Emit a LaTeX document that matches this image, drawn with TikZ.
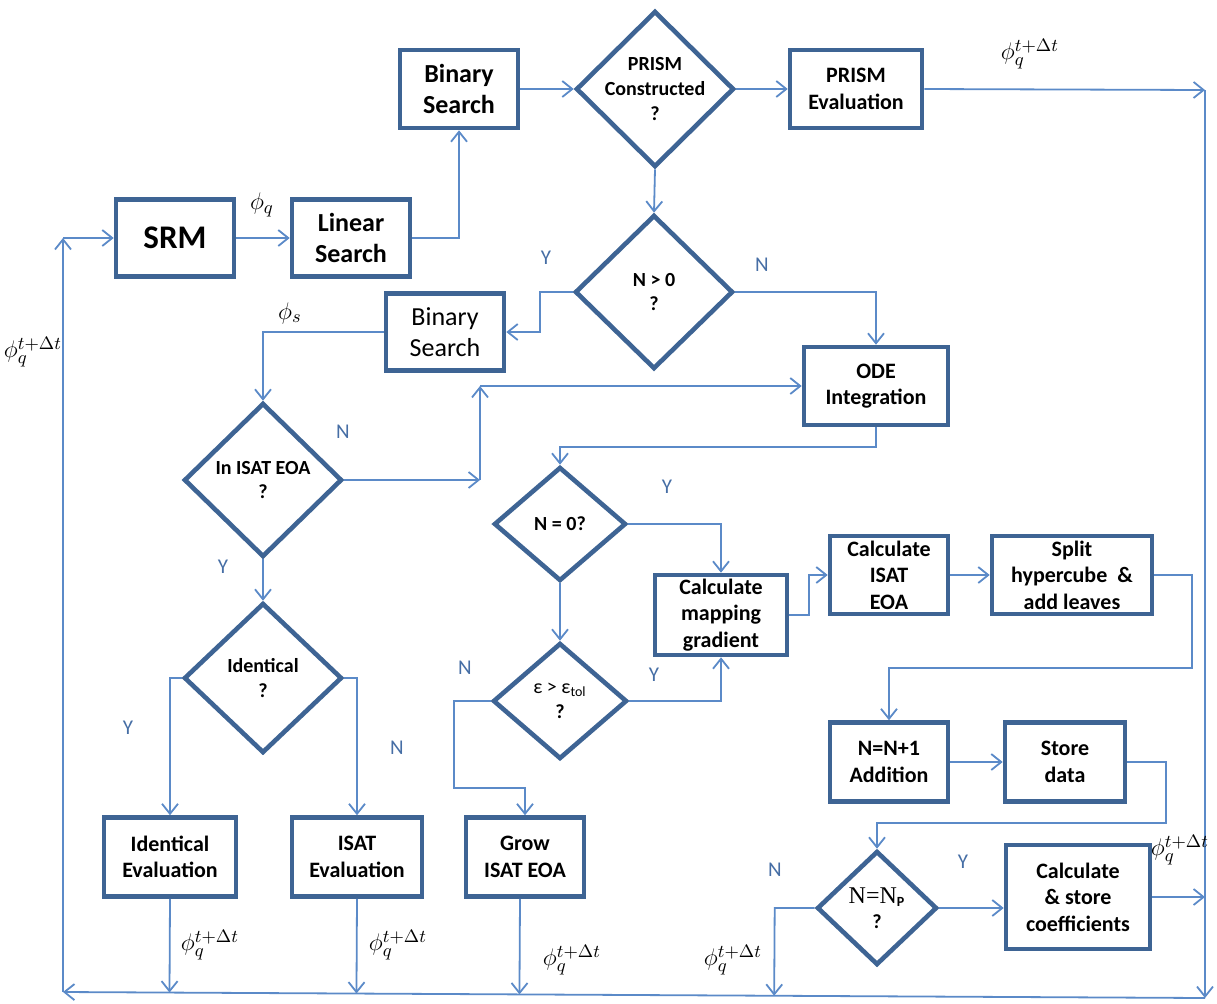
\documentclass[tikz,border=0pt]{standalone}
\usepackage{fontspec}
\setmainfont{Carlito}
\newfontfamily\timesfont{Liberation Serif}
\usepackage{tikz}
\usetikzlibrary{shapes.geometric,arrows.meta,calc}

\definecolor{boxblue}{RGB}{62,100,148}
\definecolor{lineblue}{RGB}{91,138,200}
\definecolor{markblue}{RGB}{70,110,165}

\begin{document}
\begin{tikzpicture}[x=0.5pt, y=-0.5pt,
	block/.style={draw=boxblue, line width=2.3pt, align=center, inner sep=0pt, font=\bfseries\fontsize{11}{13.3}\selectfont},
	bigblock/.style={block, font=\bfseries\fontsize{13}{15.5}\selectfont},
	decision/.style={diamond, draw=boxblue, line width=2.3pt, inner sep=0pt, label={[dtext]center:#1}},
	dtext/.style={align=center, font=\bfseries\fontsize{10}{12.3}\selectfont},
	conn/.style={lineblue, line width=0.9pt, -{Straight Barb[length=5pt, width=8pt]}},
	yn/.style={text=markblue, font=\fontsize{10.5}{12}\selectfont},
	phi/.style={font=\fontsize{13}{15}\selectfont, inner sep=1pt}]

\useasboundingbox (0,0) rectangle (1217,1003);

\node[bigblock, minimum width=59pt, minimum height=39pt] (bsa) at (459,89) {Binary\\Search};
\node[decision={PRISM\\Constructed\\?}, minimum width=79pt, minimum height=78pt] (prism) at (655,89) {};
\node[block, minimum width=66pt, minimum height=39pt] (peval) at (856,89) {PRISM\\Evaluation};

\node[block, font=\bfseries\fontsize{16.5}{19}\selectfont, minimum width=59pt, minimum height=38.5pt] (srm) at (175,238) {SRM};
\node[bigblock, minimum width=59pt, minimum height=38.5pt] (lin) at (351,238) {Linear\\Search};

\node[decision={N > 0\\?}, minimum width=79pt, minimum height=77pt] (npos) at (654,292) {};
\node[bigblock, font=\fontsize{13}{15.5}\selectfont, minimum width=59pt, minimum height=38.5pt] (bsb) at (445,332) {Binary\\Search};
\node[block, minimum width=72pt, minimum height=39pt] (ode) at (876,386) {ODE\\Integration};

\node[decision={In ISAT EOA\\?}, minimum width=79pt, minimum height=77pt] (inisat) at (263,480) {};
\node[decision={Identical\\?}, minimum width=79pt, minimum height=75pt] (ident) at (263,678) {};
\node[decision={N = 0?}, minimum width=66pt, minimum height=57pt] (nzero) at (560,524) {};
\node[decision={{\mdseries ε > ε\textsubscript{tol}}\\?}, minimum width=67pt, minimum height=58pt] (eps) at (560,701) {};

\node[block, minimum width=66pt, minimum height=40pt] (cmap) at (721,615) {Calculate\\mapping\\gradient};
\node[block, minimum width=59pt, minimum height=39pt] (ceoa) at (889,575) {Calculate\\ISAT\\EOA};
\node[block, minimum width=80pt, minimum height=39pt] (split) at (1072,575) {Split\\hypercube \ \&\\add leaves};
\node[block, minimum width=59pt, minimum height=39.5pt] (add) at (889,762) {N=N+1\\Addition};
\node[block, minimum width=60pt, minimum height=39.5pt] (store) at (1065,762) {Store\\data};
\node[decision={{\mdseries\fontsize{12}{14}\selectfont\timesfont N=N}\textsubscript{P}\\?}, minimum width=60pt, minimum height=57pt] (nnp) at (877,908) {};
\node[block, minimum width=72pt, minimum height=52pt] (coef) at (1078,897) {Calculate\\\& store\\coefficients};

\node[block, minimum width=66pt, minimum height=39.5pt] (ideval) at (170,857) {Identical\\Evaluation};
\node[block, minimum width=65pt, minimum height=39.5pt] (iseval) at (357,857) {ISAT\\Evaluation};
\node[block, minimum width=59pt, minimum height=39.5pt] (grow) at (525,857) {Grow\\ISAT EOA};

\coordinate (rtop) at (1205,90);
\coordinate (rbot) at (1205,998);
\coordinate (lbot) at (63,992);
\coordinate (ltop) at (63,238);
\coordinate (odex) at (480,480);
\coordinate (nnpturn) at ($(nnp.west)+(-40,0)$);
\coordinate (growout) at ([xshift=-2.5pt]grow.south);

\draw[conn] (srm.east) -- (lin.west);
\draw[conn] (lin.east) -| (bsa.south);
\draw[conn] (bsa.east) -- (prism.west);
\draw[conn] (prism.east) -- (peval.west);
\draw[conn] (prism.south) -- (npos.north);
\draw[conn] (peval.east) -- (rtop);
\draw[conn] (rtop) -- (rbot);
\draw[conn] (rbot) -- (lbot);
\draw[conn] (lbot) -- (ltop);
\draw[conn] (ltop) -- (srm.west);

\draw[conn] (npos.west) -- ++(-33,0) |- (bsb.east);
\draw[conn] (npos.east) -| (ode.north);
\draw[conn] (bsb.west) -| (inisat.north);
\draw[conn] (inisat.east) -- (odex);
\draw[conn] (odex) -- (odex |- ode.west);
\draw[conn] (odex |- ode.west) -- (ode.west);
\draw[conn] (ode.south) -- ++(0,20) -| (nzero.north);
\draw[conn] (nzero.east) -| (cmap.north);
\draw[conn] (nzero.south) -- (eps.north);
\draw[conn] (eps.east) -| (cmap.south);
\draw[conn] (eps.west) -- ++(-37,0) -- ++(0,87) -| (grow.north);

\draw[conn] (cmap.east) -- ++(20,0) |- (ceoa.west);
\draw[conn] (ceoa.east) -- (split.west);
\draw[conn] (split.east) -- ++(38,0) -- ++(0,93) -| (add.north);
\draw[conn] (add.east) -- (store.west);
\draw[conn] (store.east) -- ++(39,0) -- ++(0,61) -| (nnp.north);
\draw[conn] (nnp.east) -- (nnp.east -| coef.west);
\draw[conn] (coef.east) -- (coef.east -| rtop);
\draw[conn] (nnp.west) -- (nnpturn) -- ($(lbot)!(nnpturn)!(rbot)$);

\draw[conn] (inisat.south) -- (ident.north);
\draw[conn] (ident.west) -| (ideval.north);
\draw[conn] (ident.east) -| (iseval.north);
\draw[conn] (ideval.south) -- ($(lbot)!(ideval.south)!(rbot)$);
\draw[conn] (iseval.south) -- ($(lbot)!(iseval.south)!(rbot)$);
\draw[conn] (growout) -- ($(lbot)!(growout)!(rbot)$);

\foreach \p [count=\k] in {(546,258),(223,567),(128,728),(667,487),(654,675),(963,862)}
	\node[yn] (yes\k) at \p {Y};
\foreach \p [count=\k] in {(762,265),(343,432),(397,748),(465,668),(775,870)}
	\node[yn] (no\k) at \p {N};
\foreach \p [count=\k] in {(1030,54),(33,352),(210,945),(398,945),(572,960),(733,960),(1180,850)}
	\node[phi] (phiq\k) at \p {$\phi_q^{t+\Delta t}$};
\node[phi] (phiq) at (262,205) {$\phi_q$};
\node[phi] (phis) at (290,313) {$\phi_s$};

\end{tikzpicture}
\end{document}
